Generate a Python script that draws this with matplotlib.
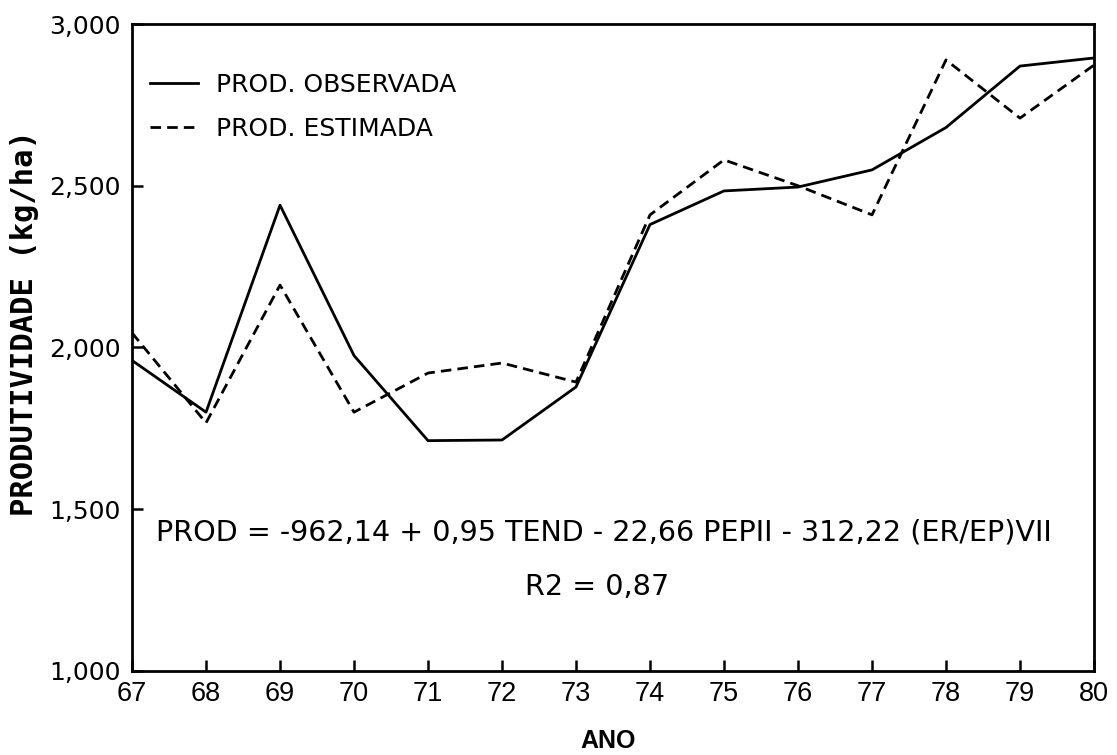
import matplotlib
matplotlib.use("Agg")
import matplotlib.pyplot as plt

anos = [67, 68, 69, 70, 71, 72, 73, 74, 75, 76, 77, 78, 79, 80]
prod_observada = [1960, 1800, 2440, 1975, 1712, 1714, 1878, 2380, 2484, 2496, 2549, 2680, 2870, 2895]
prod_estimada = [2045, 1767, 2193, 1800, 1921, 1952, 1893, 2410, 2580, 2500, 2410, 2889, 2709, 2873]

y_ticks = [1000, 1500, 2000, 2500, 3000]
y_labels = ["1,000", "1,500", "2,000", "2,500", "3,000"]

fig = plt.figure(figsize=(11.17, 7.55), dpi=100)
ax = fig.add_axes([0.1182, 0.1113, 0.8612, 0.8569])

ax.plot(anos, prod_observada, color="black", lw=2.0, label="PROD. OBSERVADA")
ax.plot(anos, prod_estimada, color="black", lw=2.0, dashes=(3.8, 2.2),
        label="PROD. ESTIMADA")

ax.set_xlim(67, 80)
ax.set_ylim(1000, 3000)
ax.set_xticks(anos)
ax.set_xticklabels([str(a) for a in anos], family="Liberation Sans", fontsize=19.5)
ax.set_yticks(y_ticks)
ax.set_yticklabels(y_labels, family="DejaVu Sans", fontsize=18)
ax.tick_params(direction="in", length=8, width=1.8, pad=8, color="black")
ax.tick_params(axis="x", pad=7)

for s in ax.spines.values():
    s.set_linewidth(2.0)

ax.legend(loc="upper left", bbox_to_anchor=(0.0187, 0.925), frameon=False,
          prop={"family": "DejaVu Sans", "size": 18},
          handlelength=1.9, handletextpad=0.72, labelspacing=0.8,
          borderpad=0, borderaxespad=0)

ax.text(0.4906, 0.2148, "PROD = -962,14 + 0,95 TEND - 22,66 PEPII - 312,22 (ER/EP)VII",
        transform=ax.transAxes, ha="center", va="center",
        family="DejaVu Sans", fontsize=20.6)
ax.text(0.483, 0.13, "R2 = 0,87", transform=ax.transAxes, ha="center", va="center",
        family="DejaVu Sans", fontsize=20.6)

fig.text(25 / 1117, 1 - 323 / 755, "PRODUTIVIDADE (kg/ha)", rotation=90,
         ha="center", va="center", family="DejaVu Sans Mono", fontweight="bold",
         fontsize=22)
fig.text(608 / 1117, 1 - 741 / 755, "ANO", ha="center", va="center",
         family="Liberation Sans", fontweight="bold", fontsize=18)

fig.savefig("out.png", dpi=100)
